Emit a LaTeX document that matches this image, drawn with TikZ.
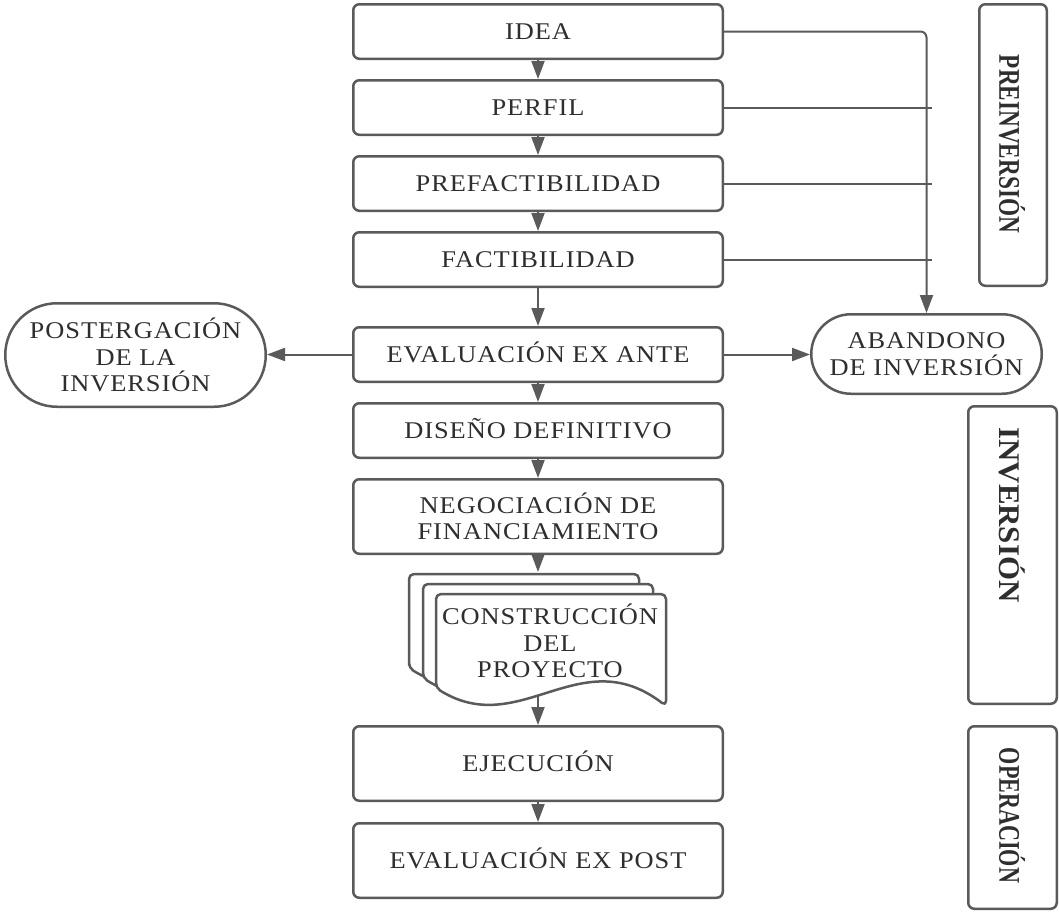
\documentclass[tikz,border=0pt]{standalone}
\usepackage{fontspec}
\setmainfont{Liberation Serif}[FakeStretch=1.1,LetterSpace=4]
\newfontfamily\sidefont{Liberation Serif}
\usetikzlibrary{arrows.meta,shapes.misc}
\definecolor{ln}{HTML}{5A5A5A}
\definecolor{tx}{HTML}{2E2E2E}
\begin{document}
\begin{tikzpicture}[x=1pt,y=-1pt,
  mainfont/.style={font=\fontsize{24}{26.5}\selectfont},
  box/.style={draw=ln,line width=2.5pt,rounded corners=6pt,minimum width=369.5pt,
    minimum height=54.5pt,text=tx,mainfont,align=center,inner sep=0pt},
  tall/.style={minimum height=74.5pt},
  one/.style={text height=16pt,text depth=0pt},
  stad/.style={draw=ln,line width=2.5pt,rounded rectangle,text=tx,mainfont,
    align=center,inner sep=0pt},
  side/.style={draw=ln,line width=2.5pt,rounded corners=6pt,inner sep=0pt},
  sidelabel/.style={rotate=-90,text=tx,font=\sidefont\bfseries\fontsize{30}{30}\selectfont,inner sep=0pt},
  conn/.style={draw=ln,line width=2pt},
  arr/.style={conn,-{Triangle[length=18pt,width=13pt]}},
  doc/.style={draw=ln,line width=2.5pt,fill=white,line join=round,rounded corners=5pt}
]
\useasboundingbox[fill=white] (0,0) rectangle (1059,916);

% main column
\node[box,one] (idea)    at (538,31.5)  {IDEA};
\node[box,one] (perfil)  at (538,107.5) {PERFIL};
\node[box,one] (prefac)  at (538,183.5) {PREFACTIBILIDAD};
\node[box,one] (fact)    at (538,259.5) {FACTIBILIDAD};
\node[box,one] (evante)  at (538,354.5) {EVALUACIÓN EX ANTE};
\node[box,one] (diseno)  at (538,430.5) {DISEÑO DEFINITIVO};
\node[box,tall] (negoc)  at (538,516.5) {NEGOCIACIÓN DE\\FINANCIAMIENTO};
\node[box,tall,one] (ejec) at (538,763.5) {EJECUCIÓN};
\node[box,tall,one] (expost) at (538,860.5) {EVALUACIÓN EX POST};

% document stack
\foreach \dx/\dy in {-27/-20,-13/-10,0/0}{
  \draw[doc,shift={(\dx,\dy)}] (436,688) -- (436,594) -- (666,594) -- (666,706)
    .. controls (580,640) and (520,740) .. (436,688) -- cycle;
}
\node[text=tx,mainfont,align=center,inner sep=0pt] (constr) at (550,641)
  {CONSTRUCCIÓN\\DEL\\PROYECTO};
\coordinate (doctop) at (538,572);
\coordinate (docbot) at (538,695);

% side outcomes
\node[stad,minimum width=260.5pt,minimum height=103.5pt] (poster) at (135.5,355)
  {POSTERGACIÓN\\DE LA\\INVERSIÓN};
\node[stad,minimum width=230.5pt,minimum height=79.5pt] (aband) at (926.5,354)
  {ABANDONO\\DE INVERSIÓN};

% phase boxes
\node[side,minimum width=67.5pt,minimum height=281.5pt] (pre) at (1013,145) {};
\node[sidelabel] (prelab) at (1012,144) {\scalebox{0.774}[1]{PREINVERSIÓN}};
\node[side,minimum width=88.5pt,minimum height=297.5pt] (inv) at (1012.5,555) {};
\node[sidelabel] (invlab) at (1012,515) {\scalebox{1.03}[1]{INVERSIÓN}};
\node[side,minimum width=88.5pt,minimum height=182.5pt] (oper) at (1012.5,817.5) {};
\node[sidelabel] (operlab) at (1012,815.5) {\scalebox{0.737}[1]{OPERACIÓN}};

% connectors
\draw[arr] (idea.south) -- (perfil.north);
\draw[arr] (perfil.south) -- (prefac.north);
\draw[arr] (prefac.south) -- (fact.north);
\draw[arr] (fact.south) -- (evante.north);
\draw[arr] (evante.south) -- (diseno.north);
\draw[arr] (diseno.south) -- (negoc.north);
\draw[arr] (negoc.south) -- (doctop);
\draw[arr] (docbot) -- (ejec.north);
\draw[arr] (ejec.south) -- (expost.north);

\coordinate (stub) at (932,0);
\draw[arr,rounded corners=6pt] (idea.east) -| (aband.north);
\draw[conn] (perfil.east) -- (perfil.east -| stub);
\draw[conn] (prefac.east) -- (prefac.east -| stub);
\draw[conn] (fact.east) -- (fact.east -| stub);
\draw[arr] (evante.east) -- (evante.east -| aband.west);
\draw[arr] (evante.west) -- (evante.west -| poster.east);
\end{tikzpicture}
\end{document}
